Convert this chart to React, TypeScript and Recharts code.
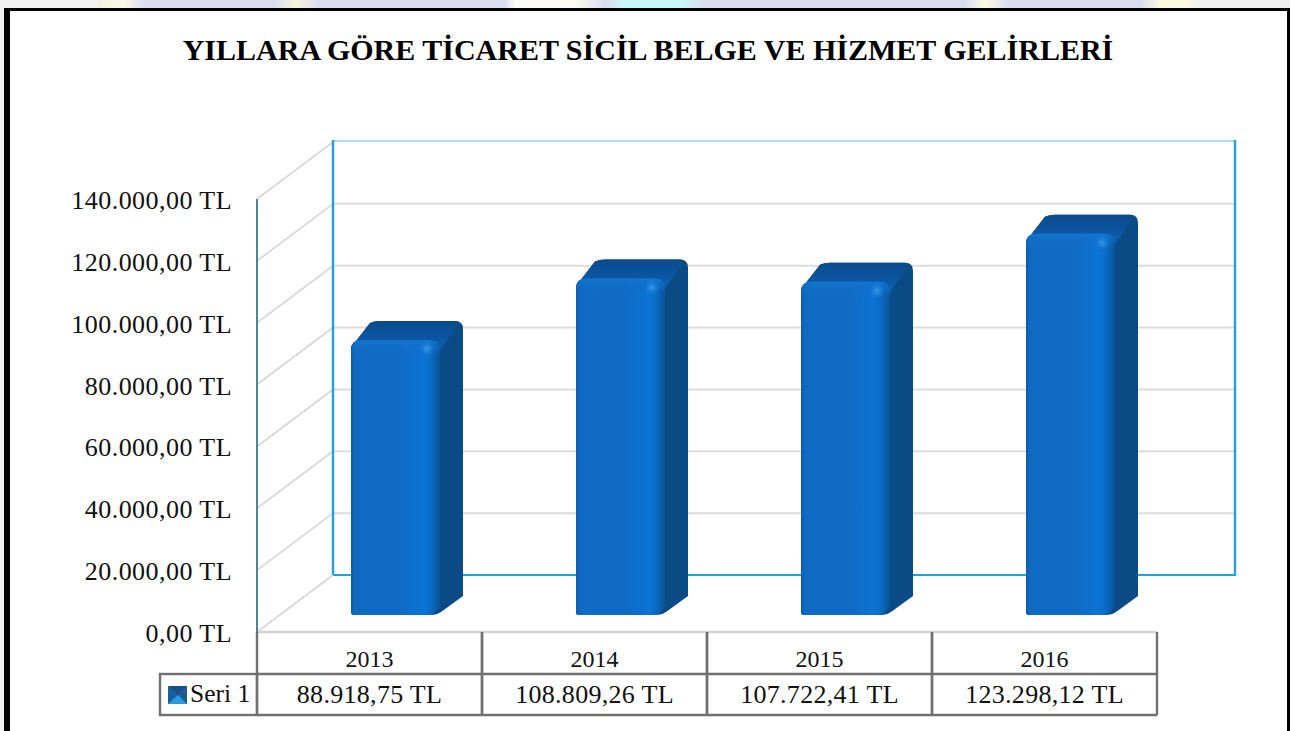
import React from "react";
import { BarChart, Bar, XAxis, YAxis, CartesianGrid, Customized } from "recharts";

const title = "YILLARA GÖRE TİCARET SİCİL BELGE VE HİZMET GELİRLERİ";
const seriesName = "Seri 1";
const categories = ["2013", "2014", "2015", "2016"];
const values = [88918.75, 108809.26, 107722.41, 123298.12];
const valueLabels = ["88.918,75 TL", "108.809,26 TL", "107.722,41 TL", "123.298,12 TL"];
const yTicks = [0, 20000, 40000, 60000, 80000, 100000, 120000, 140000];
const yTickLabels = [
  "0,00 TL",
  "20.000,00 TL",
  "40.000,00 TL",
  "60.000,00 TL",
  "80.000,00 TL",
  "100.000,00 TL",
  "120.000,00 TL",
  "140.000,00 TL",
];

const data = categories.map((year, i) => ({ year, value: values[i], label: valueLabels[i] }));

const FONT = "'Liberation Serif', serif";
const TEXT = "#111";
const WALL_DX = 76;
const WALL_DY = -57;
const WALL_BLUE = "#22a2d6";
const GRID = "#d8d8d8";
const TABLE = "#707070";
const PLOT_TOP = 199;
const PLOT_BOTTOM = 632;

const topStrip =
  "linear-gradient(90deg,#f1f1f1 0,#f1f1f1 95px,#f3f1de 100px,#fbf9e0 125px,#dcdcf0 145px,#dcdcf0 275px,#f5f3dc 295px,#dcdcf0 320px,#dcdcf0 505px,#fbfbf6 515px,#fbfbf0 575px,#dcdcf0 605px,#c8f6fa 625px,#c8f6fa 680px,#dcdcf0 705px,#dcdcf0 965px,#fbf9e0 985px,#dcdcf0 1010px,#dcdcf0 1140px,#fbf9e0 1160px,#fbf9e0 1185px,#f0f0f0 1200px,#f0f0f0 100%)";

function Walls() {
  return (
    <g>
      <line x1={333} y1={141} x2={1235} y2={141} stroke="#93d2e8" strokeWidth={1.6} />
      <line x1={333} y1={140} x2={333} y2={576} stroke={WALL_BLUE} strokeWidth={2.4} />
      <line x1={1235} y1={140} x2={1235} y2={576} stroke={WALL_BLUE} strokeWidth={2.4} />
      <line x1={333} y1={575} x2={1235} y2={575} stroke={WALL_BLUE} strokeWidth={2} />
      <line x1={257} y1={632} x2={333} y2={575} stroke={GRID} strokeWidth={1.8} />
      <line x1={257} y1={632} x2={1157} y2={632} stroke="#d2d2d2" strokeWidth={2.4} />
      <line x1={257} y1={199} x2={257} y2={632} stroke="#4f8496" strokeWidth={2} />
    </g>
  );
}

// one grid value: a slanted line on the side wall, then a level line on the back wall
function GridLine(props: any) {
  const { x1, x2, y1 } = props;
  if (y1 >= PLOT_BOTTOM - 1) return <g />;
  return (
    <g>
      <line x1={x1} y1={y1} x2={x1 + WALL_DX} y2={y1 + WALL_DY} stroke={GRID} strokeWidth={1.8} />
      {y1 > PLOT_TOP + 1 && (
        <line x1={x1 + WALL_DX + 1} y1={y1 + WALL_DY} x2={x2 + WALL_DX + 1} y2={y1 + WALL_DY} stroke="#dcdcdc" strokeWidth={2} />
      )}
    </g>
  );
}

function YTick(props: any) {
  const { y, payload } = props;
  return (
    <text x={232} y={y + 10} textAnchor="end" fontFamily={FONT} fontSize={26} letterSpacing={0.45} fill={TEXT}>
      {yTickLabels[yTicks.indexOf(payload.value)]}
    </text>
  );
}

function XTick(props: any) {
  const { x, y, payload, index } = props;
  const half = 112.5;
  const top = y;
  const d = data[index];
  const sw = 2.4;
  return (
    <g>
      <line x1={x - half} y1={top} x2={x - half} y2={top + 83} stroke={TABLE} strokeWidth={sw} />
      <line x1={x + half} y1={top} x2={x + half} y2={top + 83} stroke={TABLE} strokeWidth={sw} />
      <line x1={x - half} y1={top + 42} x2={x + half} y2={top + 42} stroke={TABLE} strokeWidth={sw} />
      <line x1={x - half} y1={top + 83} x2={x + half} y2={top + 83} stroke={TABLE} strokeWidth={sw} />
      <text x={x} y={top + 35} textAnchor="middle" fontFamily={FONT} fontSize={24} fill={TEXT}>
        {payload.value}
      </text>
      <text x={x} y={top + 71} textAnchor="middle" fontFamily={FONT} fontSize={26} letterSpacing={0.3} fill={TEXT}>
        {d.label}
      </text>
      {index === 0 && (
        <g>
          <rect x={160} y={top + 42} width={97} height={41} fill="none" stroke={TABLE} strokeWidth={sw} />
          <rect x={168} y={top + 54} width={19} height={18} fill="#1b6fb6" />
          <polygon points={`168,${top + 54} 187,${top + 54} 178,${top + 63}`} fill="#174f86" />
          <polygon points={`168,${top + 54} 168,${top + 72} 178,${top + 63}`} fill="#1a5f9f" />
          <polygon points={`187,${top + 54} 187,${top + 72} 178,${top + 63}`} fill="#1a5a96" />
          <polygon points={`168,${top + 72} 187,${top + 72} 178,${top + 63}`} fill="#2a9ad8" />
          <text x={190} y={top + 70} fontFamily={FONT} fontSize={25.5} fill={TEXT}>
            {seriesName}
          </text>
        </g>
      )}
    </g>
  );
}

function Bar3D(props: any) {
  const { x, y, width, height, index } = props;
  // the bar stands on the floor, set in from the front edge of the chart
  const fx = x + 26;
  const fy = y - 17;
  const w = width;
  const h = height;
  const dx = 23;
  const dy = -19;
  const r = 10;
  const id = `bar3d${index}`;
  const right = fx + w;
  const bottom = fy + h;
  const facePath = `M${fx},${fy + r} Q${fx},${fy} ${fx + r},${fy} L${right - r},${fy} Q${right},${fy} ${right},${fy + r} L${right},${bottom - 8} L${right - 8},${bottom} L${fx + 3},${bottom} Q${fx},${bottom} ${fx},${bottom - 3} Z`;
  const silhouette = `M${fx},${fy + r} Q${fx},${fy + 4} ${fx + 5},${fy + 1} L${fx + dx - 4},${fy + dy + 2} Q${fx + dx},${fy + dy} ${fx + dx + 6},${fy + dy} L${right + dx - 8},${fy + dy} Q${right + dx},${fy + dy} ${right + dx},${fy + dy + 8} L${right + dx},${bottom + dy} L${right + 1},${bottom - 3} Q${right - 3},${bottom} ${right - 8},${bottom} L${fx + 3},${bottom} Q${fx},${bottom} ${fx},${bottom - 3} Z`;
  const topPath = `M${fx},${fy + r} Q${fx},${fy + 4} ${fx + 5},${fy + 1} L${fx + dx - 4},${fy + dy + 2} Q${fx + dx},${fy + dy} ${fx + dx + 6},${fy + dy} L${right + dx - 8},${fy + dy} Q${right + dx - 2},${fy + dy} ${right + dx - 6},${fy + dy + 5} L${right},${fy + r} Z`;
  return (
    <g>
      <defs>
        <linearGradient id={`${id}f`} x1="0" y1="0" x2="1" y2="0">
          <stop offset="0" stopColor="#0d5dab" />
          <stop offset="0.05" stopColor="#0f6bc2" />
          <stop offset="0.55" stopColor="#0f6bc4" />
          <stop offset="0.82" stopColor="#0b74d4" />
          <stop offset="0.88" stopColor="#0a6dc8" />
          <stop offset="0.96" stopColor="#0b5cab" />
          <stop offset="1" stopColor="#0b5291" />
        </linearGradient>
        <linearGradient id={`${id}t`} x1="0" y1="0" x2="0" y2="1">
          <stop offset="0" stopColor="#1474cf" stopOpacity={0.9} />
          <stop offset="1" stopColor="#0f6bc4" stopOpacity={0} />
        </linearGradient>
        <linearGradient id={`${id}u`} x1="0" y1="0" x2="0" y2="1">
          <stop offset="0" stopColor="#0a4b8c" />
          <stop offset="0.5" stopColor="#0b549e" />
          <stop offset="1" stopColor="#0c62b6" />
        </linearGradient>
        <radialGradient id={`${id}h`}>
          <stop offset="0" stopColor="#3a9af0" stopOpacity={0.9} />
          <stop offset="1" stopColor="#1a80e0" stopOpacity={0} />
        </radialGradient>
      </defs>
      <path d={silhouette} fill="#0a4a85" />
      <path d={topPath} fill={`url(#${id}u)`} />
      <path d={facePath} fill={`url(#${id}f)`} />
      <path
        d={`M${fx},${fy + r} Q${fx},${fy} ${fx + r},${fy} L${right - r},${fy} Q${right},${fy} ${right},${fy + r} L${right},${fy + 16} L${fx},${fy + 16} Z`}
        fill={`url(#${id}t)`}
      />
      <ellipse cx={right - 13} cy={fy + 9} rx={8} ry={8} fill={`url(#${id}h)`} />
    </g>
  );
}

export default function App() {
  return (
    <div style={{ position: "absolute", left: 0, top: 0, width: 1290, height: 731, overflow: "hidden", background: "#f1f1f1" }}>
      <div style={{ position: "absolute", left: 0, top: 0, width: 1290, height: 8, background: topStrip }} />
      <div
        style={{
          position: "absolute",
          left: 4,
          top: 8,
          width: 1286,
          height: 723,
          boxSizing: "border-box",
          background: "#fff",
          borderStyle: "solid",
          borderColor: "#000",
          borderWidth: "3px 3px 0 6px",
        }}
      />
      <div
        style={{
          position: "absolute",
          left: 0,
          top: 29,
          width: 1296,
          textAlign: "center",
          fontFamily: FONT,
          fontWeight: 700,
          fontSize: 30,
          lineHeight: "42px",
          color: "#000",
          whiteSpace: "nowrap",
        }}
      >
        {title}
      </div>
      <div style={{ position: "absolute", left: 0, top: 0 }}>
        <BarChart width={1290} height={731} data={data} margin={{ top: PLOT_TOP, right: 133, bottom: 0, left: 0 }} barSize={89}>
          <Customized component={<Walls />} />
          <CartesianGrid vertical={false} horizontal={<GridLine />} />
          <YAxis
            width={257}
            domain={[0, 140000]}
            ticks={yTicks}
            interval={0}
            tickLine={false}
            axisLine={false}
            tickSize={0}
            tickMargin={25}
            tick={<YTick />}
          />
          <XAxis dataKey="year" height={99} interval={0} tickLine={false} axisLine={false} tickSize={0} tickMargin={0} tick={<XTick />} />
          <Bar dataKey="value" isAnimationActive={false} shape={<Bar3D />} />
        </BarChart>
      </div>
    </div>
  );
}
